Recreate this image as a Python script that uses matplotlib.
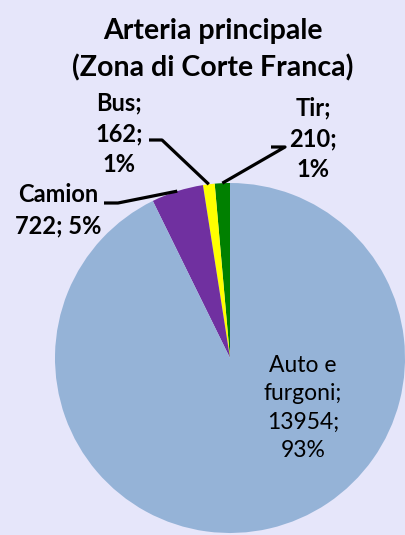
import numpy as np
import matplotlib
matplotlib.use("Agg")
import matplotlib.pyplot as plt

# data, in pie order starting from the top and going counter-clockwise
labels = ["Tir", "Bus", "Camion", "Auto e\nfurgoni"]
values = [210, 162, 722, 13954]
colors = ["#008000", "#FFFF00", "#7030A0", "#95B3D7"]

bg = "#E6E6FA"
plt.rcParams["font.family"] = ["Lato", "DejaVu Sans"]

W, H = 405, 535
fig = plt.figure(figsize=(W / 100, H / 100), dpi=100, facecolor=bg)

# pie axes: centre (230, 358) px from the top-left, radius 175 px
cx, cy, r = 230, 358, 175
ax = fig.add_axes([(cx - r) / W, (H - cy - r) / H, 2 * r / W, 2 * r / H])
ax.set_facecolor(bg)
wedges, _ = ax.pie(values, colors=colors, startangle=90, counterclock=True,
                   radius=1, wedgeprops=dict(linewidth=0))
ax.set_xlim(-1, 1)
ax.set_ylim(-1, 1)
ax.set_aspect("equal")
ax.axis("off")

total = sum(values)
pct = [round(v / total * 100) for v in values]


def px(x, y):
    # pixel position (from top-left) -> pie data units
    return (x - cx) / r, (cy - y) / r


def leader(w, elbow, end):
    ang = np.deg2rad((w.theta1 + w.theta2) / 2)
    x0, y0 = np.cos(ang), np.sin(ang)
    ex, ey = px(*elbow)
    tx, ty = px(*end)
    ax.plot([x0, ex, tx], [y0, ey, ey], color="black", lw=2.3,
            solid_capstyle="butt", clip_on=False)


lab_kw = dict(fontsize=17, fontweight="bold", ha="center", va="center",
              linespacing=1.42, clip_on=False)

# Tir
leader(wedges[0], (285, 147), (271, 147))
ax.text(*px(313, 139), f"{labels[0]};\n{values[0]};\n{pct[0]}%", **lab_kw)
# Bus
leader(wedges[1], (162, 140), (149, 140))
ax.text(*px(119, 134), f"{labels[1]};\n{values[1]};\n{pct[1]}%", **lab_kw)
# Camion
leader(wedges[2], (118, 203), (104, 203))
ax.text(*px(58, 210), f"{labels[2]}\n{values[2]}; {pct[2]}%", **lab_kw)
# Auto e furgoni (inside)
ax.text(*px(303, 408), f"{labels[3]};\n{values[3]};\n{pct[3]}%",
        fontsize=16.5, ha="center", va="center", linespacing=1.42)

fig.text(213 / W, 1 - 50 / H, "Arteria principale\n(Zona di Corte Franca)",
         fontsize=20.5, fontweight="bold", ha="center", va="center",
         linespacing=1.45)

fig.savefig("out.png", dpi=100, facecolor=bg)
